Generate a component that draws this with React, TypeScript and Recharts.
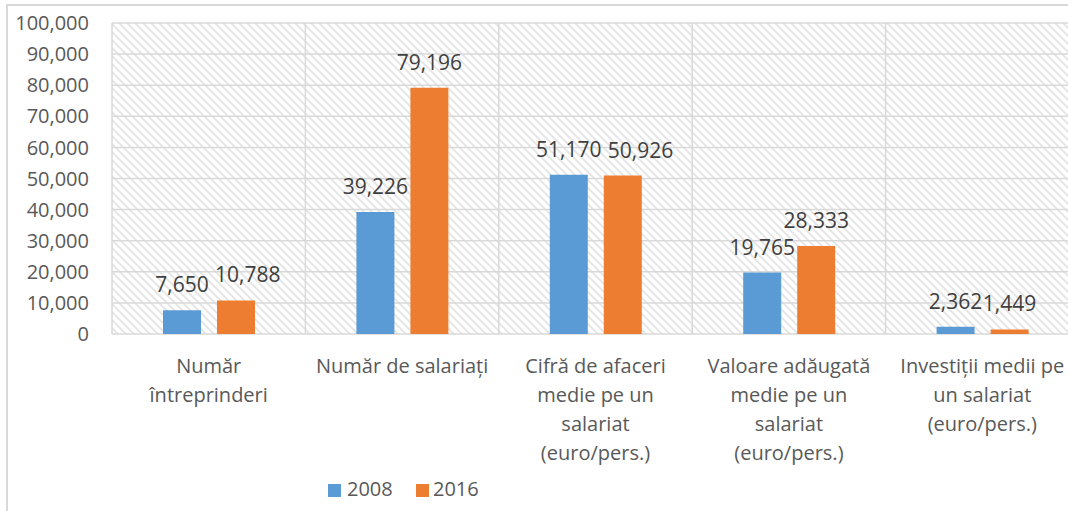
import React from 'react';
import { BarChart, Bar, XAxis, YAxis, CartesianGrid, LabelList } from 'recharts';

const categories: string[] = [
  'Număr\nîntreprinderi',
  'Număr de salariați',
  'Cifră de afaceri\nmedie pe un\nsalariat\n(euro/pers.)',
  'Valoare adăugată\nmedie pe un\nsalariat\n(euro/pers.)',
  'Investiții medii pe\nun salariat\n(euro/pers.)',
];
const seriesNames: string[] = ['2008', '2016'];
const values2008: number[] = [7650, 39226, 51170, 19765, 2362];
const values2016: number[] = [10788, 79196, 50926, 28333, 1449];
const yTicks: number[] = [0, 10000, 20000, 30000, 40000, 50000, 60000, 70000, 80000, 90000, 100000];
const colors: string[] = ['#5B9BD5', '#ED7D31'];

const data = categories.map((name, i) => ({
  name,
  s2008: values2008[i],
  s2016: values2016[i],
}));

const FONT = '"Open Sans", sans-serif';
const LABEL_FS = 21;
const BAR = 38;
const GAP = 16;
const CLEAR = 6;
const fmt = (v: any) => Number(v).toLocaleString('en-US');
const textW = (s: string) =>
  s.split('').reduce((a, c) => a + (c === ',' ? 0.27 : 0.572), 0) * LABEL_FS;

const CatTick = (props: any) => {
  const { x, y, payload } = props;
  const lines = String(payload.value).split('\n');
  return (
    <text x={x} y={y} textAnchor="middle" fill="#595959" fontSize={20} fontFamily={FONT}>
      {lines.map((l, i) => (
        <tspan key={i} x={x} dy={i === 0 ? 39 : 29}>
          {l}
        </tspan>
      ))}
    </text>
  );
};

const OFFSET = 18;

const Label2008 = (props: any) => {
  const { x, y, width, value } = props;
  return (
    <text x={x + width / 2} y={y - OFFSET} textAnchor="middle" fill="#404040" fontSize={LABEL_FS} fontFamily={FONT}>
      {fmt(value)}
    </text>
  );
};

const Label2016 = (props: any) => {
  const { x, y, width, height, value, index } = props;
  const cx = x + width / 2;
  const v1 = values2008[index];
  const base = y + height;
  const k = value ? height / value : 0;
  const y1 = base - v1 * k;
  const w1 = textW(fmt(v1));
  const w2 = textW(fmt(value));
  const otherRight = cx - (BAR + GAP) + w1 / 2;
  const myLeft = cx - w2 / 2;
  let dx = 0;
  if (Math.abs(y1 - y) < 20 && otherRight > myLeft + 0.5) dx = otherRight - myLeft + CLEAR;
  return (
    <text x={cx + dx} y={y - OFFSET} textAnchor="middle" fill="#404040" fontSize={LABEL_FS} fontFamily={FONT}>
      {fmt(value)}
    </text>
  );
};

export default function App() {
  return (
    <div style={{ position: 'absolute', left: 0, top: 0, width: 1068, height: 511, overflow: 'hidden', background: '#fff' }}>
      <svg width={0} height={0} style={{ position: 'absolute' }}>
        <defs>
          <pattern id="hatch" width={8} height={8} patternUnits="userSpaceOnUse">
            <rect width={8} height={8} fill="#ffffff" />
            <path d="M-2,-2 L10,10 M-2,6 L2,10 M6,-2 L10,2" stroke="#e4e4e4" strokeWidth={1.8} />
          </pattern>
        </defs>
      </svg>
      <div
        style={{
          position: 'absolute',
          left: 6,
          top: 4,
          width: 2000,
          height: 2000,
          borderLeft: '2px solid #d9d9d9',
          borderTop: '2px solid #d9d9d9',
        }}
      />
      <div style={{ position: 'absolute', left: 0, top: 0 }}>
        <BarChart
          width={1100}
          height={511}
          data={data}
          margin={{ top: 23, right: 21, left: 22, bottom: 0 }}
          barGap={GAP}
          barSize={BAR}
        >
          <CartesianGrid
            fill="url(#hatch)"
            fillOpacity={1}
            stroke="#d9d9d9"
            strokeWidth={1.5}
            verticalCoordinatesGenerator={({ offset }: any) =>
              categories.map((_, i) => offset.left + (i * offset.width) / categories.length).concat([offset.left + offset.width])
            }
          />
          <XAxis
            dataKey="name"
            axisLine={false}
            tickLine={false}
            tickSize={0}
            tickMargin={0}
            interval={0}
            height={177}
            tick={<CatTick />}
          />
          <YAxis
            width={90}
            domain={[0, 100000]}
            ticks={yTicks}
            axisLine={false}
            tickLine={false}
            tickSize={0}
            tickMargin={23}
            tickFormatter={fmt}
            tick={{ fill: '#595959', fontSize: 20, fontFamily: FONT }}
          />
          <Bar dataKey="s2008" name={seriesNames[0]} fill={colors[0]} isAnimationActive={false}>
            <LabelList dataKey="s2008" content={<Label2008 />} />
          </Bar>
          <Bar dataKey="s2016" name={seriesNames[1]} fill={colors[1]} isAnimationActive={false}>
            <LabelList dataKey="s2016" content={<Label2016 />} />
          </Bar>
        </BarChart>
      </div>
      {seriesNames.map((n, i) => (
        <React.Fragment key={n}>
          <div style={{ position: 'absolute', left: 328 + i * 88, top: 484, width: 13, height: 13, background: colors[i] }} />
          <div
            style={{
              position: 'absolute',
              left: 347 + i * 86,
              top: 479,
              lineHeight: '20px',
              fontSize: 20,
              fontFamily: FONT,
              color: '#595959',
            }}
          >
            {n}
          </div>
        </React.Fragment>
      ))}
    </div>
  );
}
